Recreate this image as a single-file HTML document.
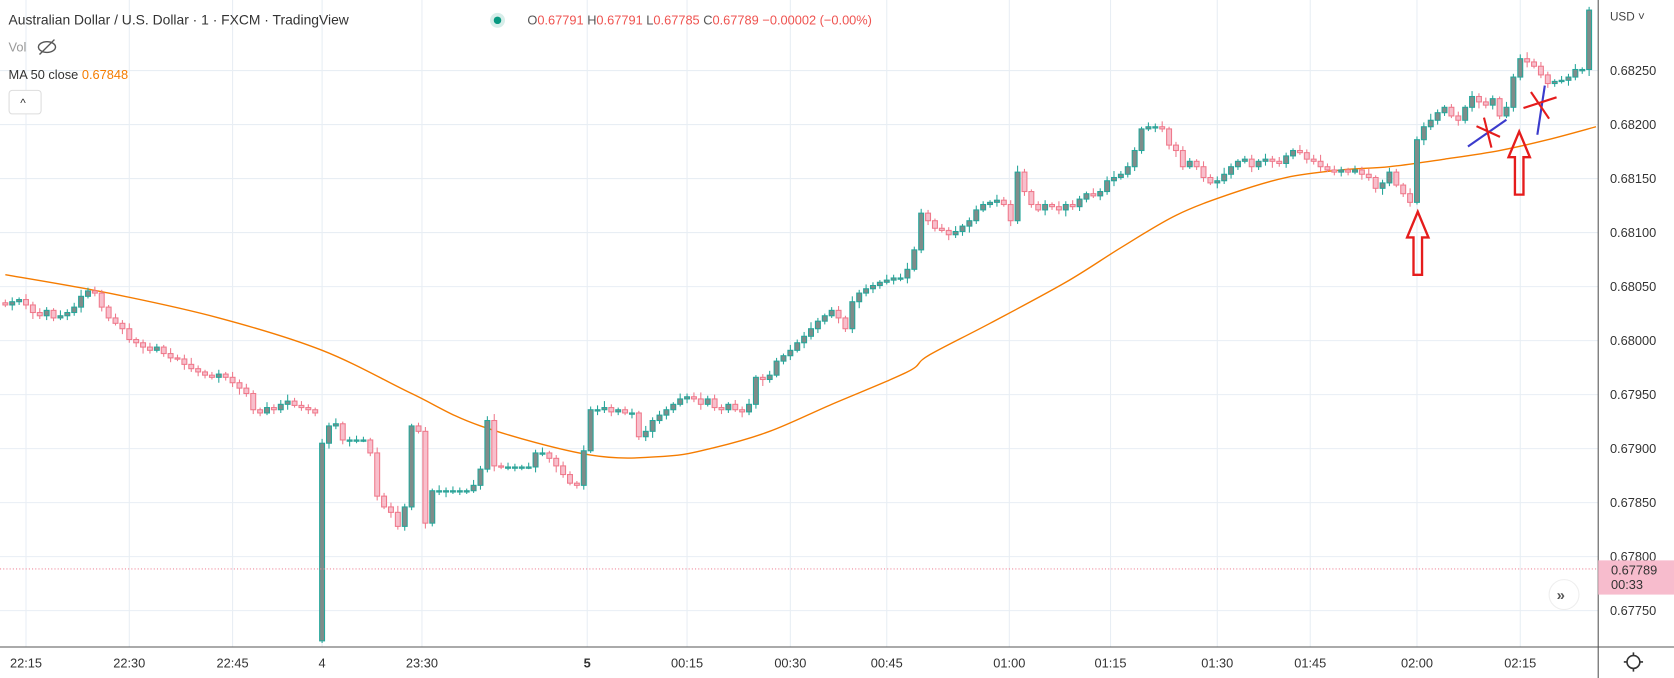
<!DOCTYPE html>
<html><head><meta charset="utf-8"><style>
html,body{margin:0;padding:0;background:#fff;overflow:hidden}
svg{display:block}
text{font-family:"Liberation Sans",sans-serif}
</style></head><body>
<svg id="chart" width="1674" height="678" viewBox="0 0 1568 634" preserveAspectRatio="none" xmlns="http://www.w3.org/2000/svg">
<rect x="0" y="0" width="1568" height="634" fill="#fff"/>
<g id="grid"></g>
<g id="ma"></g>
<g id="candles"></g>
<line x1="0" y1="532" x2="1497" y2="532" stroke="#f08a9c" stroke-dasharray="1,2" stroke-width="1"/>
<g>
<path d="M1328,198 L1338,222 L1332,222 L1332,257 L1324,257 L1324,222 L1318,222 Z" fill="none" stroke="#e51c1c" stroke-width="2.2"/>
<path d="M1423,123 L1433,147 L1427,147 L1427,182 L1419,182 L1419,147 L1413,147 Z" fill="none" stroke="#e51c1c" stroke-width="2.2"/>
<line x1="1375" y1="137" x2="1411" y2="112" stroke="#3b3bcc" stroke-width="2"/>
<line x1="1383" y1="118" x2="1405" y2="128" stroke="#e51c1c" stroke-width="2"/>
<line x1="1390" y1="110" x2="1397" y2="138" stroke="#e51c1c" stroke-width="2"/>
<line x1="1440" y1="126" x2="1447" y2="80" stroke="#3b3bcc" stroke-width="2"/>
<line x1="1427" y1="101" x2="1458" y2="91" stroke="#e51c1c" stroke-width="2"/>
<line x1="1434" y1="86" x2="1451" y2="111" stroke="#e51c1c" stroke-width="2"/>
</g>
<line x1="1497" y1="0" x2="1497" y2="634" stroke="#555" stroke-width="1"/>
<line x1="0" y1="605" x2="1568" y2="605" stroke="#555" stroke-width="1"/>
<g id="yticks"></g>
<g id="xticks"></g>
<text x="1508" y="19" font-size="11" fill="#444">USD ˅</text>
<rect x="1497" y="524" width="71" height="32" fill="#f7bccd"/>
<text x="1509" y="537" font-size="12" fill="#333">0.67789</text>
<text x="1509" y="551" font-size="12" fill="#333">00:33</text>
<g><circle cx="1465" cy="556" r="14" fill="#fff" stroke="#eee"/><text x="1458" y="561" font-size="14" fill="#555" font-weight="bold">»</text></g>
<g><circle cx="1530" cy="619" r="6" fill="none" stroke="#333" stroke-width="1.5"/><path d="M1530,610v3M1530,625v3M1521,619h3M1536,619h3" stroke="#333" stroke-width="1.5"/></g>
<text x="8" y="23" font-size="13" fill="#333">Australian Dollar / U.S. Dollar · 1 · FXCM · TradingView</text>
<circle cx="466" cy="19" r="7" fill="#d7eeea"/><circle cx="466" cy="19" r="3.5" fill="#089981"/>
<text x="494" y="23" font-size="12" fill="#555">O<tspan fill="#ef5350">0.67791</tspan> H<tspan fill="#ef5350">0.67791</tspan> L<tspan fill="#ef5350">0.67785</tspan> C<tspan fill="#ef5350">0.67789</tspan> <tspan fill="#ef5350">−0.00002 (−0.00%)</tspan></text>
<text x="8" y="48" font-size="12" fill="#999">Vol</text>
<g><ellipse cx="44" cy="44" rx="8" ry="5" fill="none" stroke="#555" stroke-width="1.3"/><line x1="37" y1="51" x2="51" y2="37" stroke="#555" stroke-width="1.3"/></g>
<text x="8" y="74" font-size="12" fill="#333">MA 50 close <tspan fill="#f57c00">0.67848</tspan></text>
<g><rect x="8.5" y="84.5" width="30" height="22" rx="3" fill="#fff" stroke="#ddd"/><text x="19" y="100" font-size="11" fill="#333">^</text></g>
</svg>
<script>
const closes=[68033,68036,68038,68033,68026,68023,68028,68021,68023,68026,68031,68041,68046,68044,68031,68021,
68016,68011,68001,67998,67994,67991,67994,67988,67984,67983,67978,67974,67971,67968,67966,67969,67966,67961,67956,67951,
67936,67933,67938,67936,67941,67944,67940,67938,67936,67933,
67905,67921,67923,67908,67908,67908,67908,67896,67856,67846,67841,67828,67846,67921,67916,67831,67861,67861,
67861,67861,67861,67861,67866,67881,67926,67884,67883,67883,67883,67883,67883,67896,67896,67891,67884,67876,67868,67866,67898,
67936,67936,67938,67934,67936,67933,67933,67911,67916,67926,67931,67936,67941,67946,67948,67946,67941,67946,67938,67936,67941,67936,67934,67941,
67966,67964,67968,67981,67986,67991,67998,68004,68011,68018,68023,68028,68021,68011,68036,68044,68048,68051,68054,68056,68058,68058,68066,68084,
68118,68111,68104,68102,68098,68101,68106,68111,68121,68126,68128,68130,68126,68111,68156,68138,68126,68121,68126,68124,68121,68126,68124,68131,68136,68134,68138,
68148,68151,68154,68161,68176,68196,68198,68198,68196,68181,68176,68161,68166,68161,68151,68146,68148,68154,68161,68166,68168,68161,68166,68168,68166,68164,68171,68176,68174,68168,68166,68161,68158,68156,68158,68156,68158,68154,68151,68141,68146,68156,68144,68136,68128,
68186,68198,68204,68211,68216,68208,68204,68216,68226,68221,68218,68224,68208,68216,68244,68261,68258,68254,68246,68238,68240,68241,68244,68251,68251,68306];
const gapOpens={46:67722};
const wicks=[3,4,2,5,3,4,3,2,5,3,4,6,3,4,3,2,4,3,5,2,3,4,3,2,5,3,4,6,3,2];
const maIdx=[0,15,31,46,59,69,85,96,103,111,120,131,134,143,154,162,170,178,186,194,201,209,217,224,231];
const maVals=[68061,68044,68021,67991,67951,67921,67894,67893,67901,67916,67941,67971,67986,68016,68054,68086,68116,68136,68151,68158,68161,68168,68176,68186,68198];
const yTicks=[68250,68200,68150,68100,68050,68000,67950,67900,67850,67800,67750];
const xLabels=["22:15","22:30","22:45","4","23:30","5","00:15","00:30","00:45","01:00","01:15","01:30","01:45","02:00","02:15"];
const xLabelIdx=[3,18,33,46,60.5,84.5,99,114,128,145.8,160.5,176,189.5,205,220];

const NS="http://www.w3.org/2000/svg";
const X=i=>5+i*6.45;
const Y=p=>66+(68250-p)*1.01;
function mk(tag,attrs,parent){const e=document.createElementNS(NS,tag);for(const k in attrs)e.setAttribute(k,attrs[k]);parent.appendChild(e);return e;}
const grid=document.getElementById('grid'),cg=document.getElementById('candles'),yg=document.getElementById('yticks'),xg=document.getElementById('xticks'),mg=document.getElementById('ma');
yTicks.forEach(t=>{const y=Y(t);
 const l=mk('line',{x1:0,x2:1497,y1:y,y2:y,stroke:'#e8eef4','stroke-width':1},grid);
 
 
 const tx=mk('text',{x:1508,y:y+4,'font-size':12,fill:'#333'},yg);tx.textContent=(t/100000).toFixed(5);
 
 
});
xLabels.forEach((s,k)=>{const x=X(xLabelIdx[k]);
 const l=mk('line',{x1:x,x2:x,y1:0,y2:605,stroke:'#e8eef4','stroke-width':1},grid);
 
 
 const tx=mk('text',{x:x,y:624,'font-size':12,fill:'#333','text-anchor':'middle','font-weight':s==='5'?'bold':'normal'},xg);tx.textContent=s;
 
 
});
const pts=maIdx.map((i,k)=>[X(i),Y(maVals[k])]);
let d='M'+pts[0][0]+','+pts[0][1];
for(let k=0;k<pts.length-1;k++){
 const p0=pts[Math.max(0,k-1)],p1=pts[k],p2=pts[k+1],p3=pts[Math.min(pts.length-1,k+2)];
 const c1=[p1[0]+(p2[0]-p0[0])/6,p1[1]+(p2[1]-p0[1])/6],c2=[p2[0]-(p3[0]-p1[0])/6,p2[1]-(p3[1]-p1[1])/6];
 d+='C'+c1[0]+','+c1[1]+' '+c2[0]+','+c2[1]+' '+p2[0]+','+p2[1];
}
const mp=mk('path',{d:d,fill:'none',stroke:'#f57c00','stroke-width':1.3},mg);


closes.forEach((c,i)=>{
 const o=(i in gapOpens)?gapOpens[i]:(i?closes[i-1]:c+2);
 const w=wicks[i%wicks.length];
 const hi=Math.max(o,c)+w, lo=Math.min(o,c)-(wicks[(i+7)%wicks.length]);
 const up=c>=o;const x=X(i);
 const g=mk('g',{},cg);
 
 
 const col=up?'#26a69a':'#ef7a8c';
 mk('line',{x1:x,x2:x,y1:Y(hi),y2:Y(lo),stroke:col,'stroke-width':1},g);
 const top=Y(Math.max(o,c)),h=Math.max(1.2,Math.abs(Y(o)-Y(c)));
 mk('rect',{x:x-2.3,y:top,width:4.6,height:h,fill:up?'#7f8c8a':'#f8bfcc',stroke:col,'stroke-width':1},g);
});
</script>
</body></html>
